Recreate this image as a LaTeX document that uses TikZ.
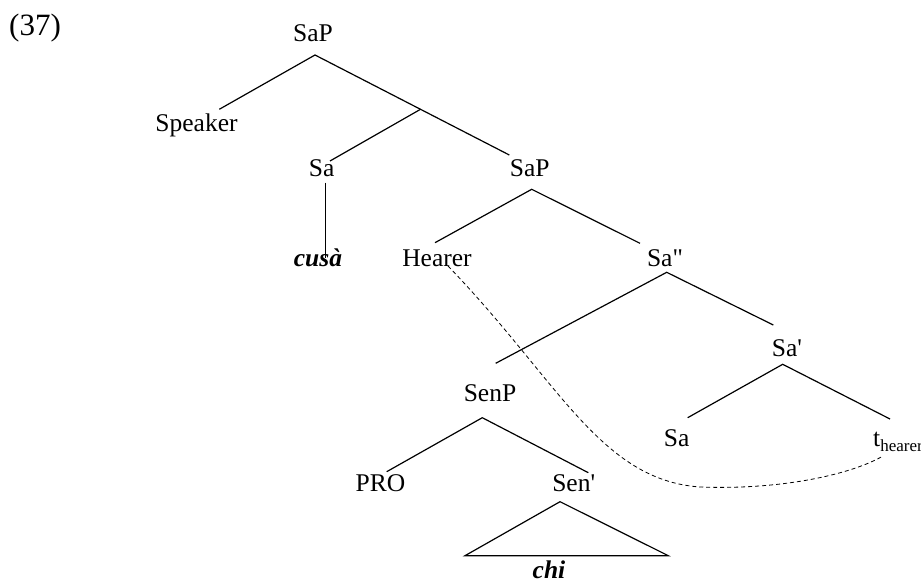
\documentclass[tikz,border=0pt]{standalone}
\usepackage{fontspec}
\usetikzlibrary{calc}
\newfontfamily\treefont{Liberation Serif}
\begin{document}
\begin{tikzpicture}[x=1pt,y=-1pt,
  lbl/.style={anchor=base,inner sep=0pt,font=\treefont\fontsize{25.5}{30}\selectfont},
  edge/.style={line width=1.2pt},
  trace/.style={line width=0.8pt,dash pattern=on 4pt off 3pt}]
\useasboundingbox (0,0) rectangle (921,583);
\clip (0,0) rectangle (921,583);
% labels
\node[lbl,anchor=base west,font=\treefont\fontsize{31}{34}\selectfont] (ex) at (9,36) {(37)};
\node[lbl] (sap1) at (313,41.7) {SaP};
\node[lbl] (speaker) at (196.5,131.7) {Speaker};
\node[lbl] (sa1) at (321.7,176.7) {Sa};
\node[lbl] (sap2) at (529.7,176.7) {SaP};
\node[lbl] (cusa) at (318,266.7) {\bfseries\itshape cusà};
\node[lbl] (hearer) at (437,266.7) {Hearer};
\node[lbl] (sa2) at (665,266.7) {Sa"};
\node[lbl] (sa3) at (787,356.7) {Sa'};
\node[lbl] (senp) at (490,401.7) {SenP};
\node[lbl] (sa4) at (676.7,446.7) {Sa};
\node[lbl,anchor=base west] (t) at (873,446.7) {t\raisebox{-5pt}{\fontsize{17}{17}\selectfont hearer}};
\node[lbl] (pro) at (380.5,491.7) {PRO};
\node[lbl] (senbar) at (573.7,491.7) {Sen'};
\node[lbl] (chi) at (549,578) {\bfseries\itshape chi};
% branch points
\coordinate (sap1-foot) at (315,55);
\coordinate (speaker-head) at (219.3,109.3);
\coordinate (sap2-head) at (509.3,155);
\coordinate (bar1) at ($(sap1-foot)!0.543!(sap2-head)$);
\coordinate (sa1-head) at (330,161);
\coordinate (sa1-foot) at (325.7,182.7);
\coordinate (cusa-head) at (325.7,258);
\coordinate (sap2-foot) at (531.7,189.3);
\coordinate (hearer-head) at (435,242.7);
\coordinate (sa2-head) at (640,243.3);
\coordinate (sa2-foot) at (666.7,272.3);
\coordinate (senp-head) at (495.7,363.3);
\coordinate (sa3-head) at (773.3,325);
\coordinate (sa3-foot) at (782.7,364.3);
\coordinate (sa4-head) at (687.7,417.7);
\coordinate (t-head) at (890,419);
\coordinate (senp-foot) at (482.3,417.7);
\coordinate (pro-head) at (386.7,471.7);
\coordinate (senbar-head) at (588.3,472.7);
\coordinate (senbar-foot) at (560,501.7);
\coordinate (tri-left) at (465,555.7);
\coordinate (tri-right) at (668.3,555.7);
\coordinate (hearer-trace) at (448,266);
\coordinate (trace-low) at (700,487);
\coordinate (t-tail) at (883,456);
% edges
\draw[edge] (speaker-head) -- (sap1-foot) -- (sap2-head);
\draw[edge] (bar1) -- (sa1-head);
\draw[edge] (sa1-foot) -- (cusa-head);
\draw[edge] (hearer-head) -- (sap2-foot) -- (sa2-head);
\draw[edge] (senp-head) -- (sa2-foot) -- (sa3-head);
\draw[edge] (sa4-head) -- (sa3-foot) -- (t-head);
\draw[edge] (pro-head) -- (senp-foot) -- (senbar-head);
\draw[edge] (senbar-foot) -- (tri-left) -- (tri-right) -- cycle;
% movement trace
\draw[trace] (hearer-trace) .. controls (558,380) and (600,480) .. (trace-low)
  .. controls (780,490) and (850,475) .. (t-tail);
\end{tikzpicture}
\end{document}
